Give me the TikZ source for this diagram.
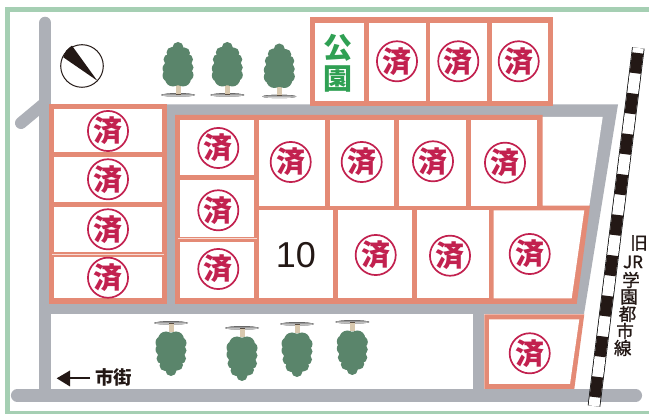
\documentclass[tikz,border=0pt]{standalone}
\usepackage{fontspec}
\setmainfont{Liberation Sans}
\newfontfamily\cjk{Noto Sans CJK JP}
\newfontfamily\cjkmid[FakeBold=1.2]{Noto Sans CJK JP}
\definecolor{roadgray}{HTML}{ADB0B7}
\definecolor{lotsalmon}{HTML}{E48A75}
\definecolor{framegreen}{HTML}{A5CFB3}
\definecolor{stampred}{HTML}{C2214F}
\definecolor{parkgreen}{HTML}{2FA053}
\definecolor{leaf}{HTML}{5A856B}
\definecolor{bark}{HTML}{D8C8AE}
\definecolor{shade}{HTML}{C9D4CB}
\definecolor{ink}{HTML}{231815}
\tikzset{
  road/.style={draw=roadgray,line width=12.5pt,line cap=round},
  lot/.style={fill=lotsalmon},
  cell/.style={fill=white},
  seam/.style={draw=white!70!lotsalmon,line width=1pt},
  stamp/.style={circle,draw=stampred,line width=1.7pt,minimum size=39.8pt,inner sep=0pt,text=stampred,font=\cjk\bfseries\fontsize{29}{29}\selectfont},
  parktext/.style={text=parkgreen,inner sep=0pt,font=\cjk\bfseries\fontsize{29}{29}\selectfont},
  raillabel/.style={text=ink,inner sep=0pt,font=\cjkmid\fontsize{17.5}{18}\selectfont},
  tree/.pic={
    \fill[shade] (0,22.5+8) ellipse[x radius=17,y radius=1.7];
    \fill[bark] (-2.5,21) rectangle (2.5,30);
    \fill[ink!70!bark] (-2.5,29.4) rectangle (2.5,30.2);
    \fill[leaf] (0,-17) circle[radius=5.5] (-6,-12) circle[radius=5.5] (6.5,-11.5) circle[radius=5.5]
      (-9,-5) circle[radius=5.5] (9.5,-5) circle[radius=5.5] (-9.5,4) circle[radius=6]
      (10,3) circle[radius=5.5] (-9,11) circle[radius=6.5] (9.5,10.5) circle[radius=6]
      (-5,14) circle[radius=8] (5,14) circle[radius=8] (0,4) ellipse[x radius=14,y radius=17];
  }
}
\begin{document}
\begin{tikzpicture}[x=1pt,y=-1pt]
\useasboundingbox (0,0) rectangle (649,414);
\fill[white] (0,0) rectangle (649,414);
% frame
\draw[framegreen,line width=5pt] (649,9.5) -- (7.5,9.5) -- (7.5,413.5) -- (649,413.5);
% roads
\draw[road] (45.2,23) -- (45.2,395);
\draw[road,line width=12pt] (21,123) -- (45,103);
\draw[road] (17.2,395.5) -- (635.8,395.5);
\fill[roadgray] (45,104.5) -- (618,104.5) -- (584,314) -- (484,314) -- (484,395) -- (473,395) -- (473,314) -- (45,314) -- cycle;
\fill[white] (530,117) -- (602.7,117) -- (589.3,206) -- (530,206) -- cycle;
% railway
\coordinate (railtop) at (638.3,48);
\coordinate (railend) at (594,406);
\draw[black,line width=12.5pt] (railtop) -- (railend);
\draw[white,line width=11pt] (railtop) -- (railend);
\draw[ink,line width=11pt,dash pattern=on 20.4pt off 20.4pt,dash phase=35.8pt] (railtop) -- (railend);
% top lots
\fill[lot] (310,17.5) rectangle (553,105.7);
\fill[cell] (315,22.7) rectangle (364.3,101);
\fill[cell] (369,22.7) rectangle (425.7,101);
\fill[cell] (430.3,22.7) rectangle (487,101);
\fill[cell] (491.7,22.7) rectangle (547.7,101);
% left lots
\fill[lot] (49.3,104) rectangle (166.7,304);
\fill[cell] (54.3,109) rectangle (161.7,152.3);
\fill[cell] (54.3,157.3) rectangle (161.7,202.3);
\fill[cell] (54.3,207.3) rectangle (161.7,251.7);
\fill[cell] (54.3,256.7) rectangle (161.7,298.3);
\draw[seam] (52,254.3) -- (163.5,254.3);
% middle lots
\fill[lot] (175,115) -- (542.7,115) -- (542.7,205.7) -- (590,205.7) -- (576.7,304) -- (175,304) -- cycle;
\fill[cell] (180,120) rectangle (254.3,175);
\fill[cell] (180,180.3) rectangle (254.3,236.7);
\fill[cell] (180,241.7) rectangle (254.3,298.3);
\draw[seam] (177.5,238.9) -- (257,238.9);
\fill[cell] (259.3,120) rectangle (325,205.7);
\fill[cell] (330,120) rectangle (394.3,205.7);
\fill[cell] (399.3,120) rectangle (466,205.7);
\fill[cell] (471,120) rectangle (537.3,205.7);
\fill[cell] (259.3,210.3) rectangle (332.7,298.3);
\fill[cell] (337.7,210.3) rectangle (412.3,298.3);
\fill[cell] (417,210.3) rectangle (488.7,298.3);
\fill[cell] (493.7,210.3) -- (584.3,210.3) -- (571.7,298.3) -- (493.7,298.3) -- cycle;
% lower right lot
\fill[lot] (484.3,314.3) -- (584.3,314.3) -- (574.3,389) -- (484.3,389) -- cycle;
\fill[cell] (489,319.3) -- (579.3,319.3) -- (570,384) -- (489,384) -- cycle;
% park
\node[parktext] (koen1) at (338,47.5) {公};
\node[parktext] (koen2) at (338,79) {園};
% stamps
\node[stamp] (s1) at (397,61.3) {済};
\node[stamp] (s2) at (458.3,61.3) {済};
\node[stamp] (s3) at (518.7,61.3) {済};
\node[stamp] (s4) at (108,131) {済};
\node[stamp] (s5) at (108,179.3) {済};
\node[stamp] (s6) at (108,229.3) {済};
\node[stamp] (s7) at (108,277.7) {済};
\node[stamp] (s8) at (218.3,148) {済};
\node[stamp] (s9) at (218.3,210.3) {済};
\node[stamp] (s10) at (218.3,269) {済};
\node[stamp] (s11) at (290.7,162) {済};
\node[stamp] (s12) at (361.7,162) {済};
\node[stamp] (s13) at (433,161.3) {済};
\node[stamp] (s14) at (505,162.7) {済};
\node[stamp] (s15) at (375.7,255) {済};
\node[stamp] (s16) at (450,255.7) {済};
\node[stamp] (s17) at (529.7,254) {済};
\node[stamp] (s18) at (529.7,353.3) {済};
\node[inner sep=0pt,text=ink,font=\fontsize{36}{36}\selectfont] (ten) at (296,255) {10};
% compass
\fill[ink] (97.3,80.7) -- (72,45.7) -- (69,47.8) -- (66,51) -- (63.3,57.3) -- cycle;
\draw[ink,line width=1pt] (82,66) circle[radius=21.3];
% trees
\pic at (178,64.5) {tree};
\pic at (227.3,64.5) {tree};
\pic at (279.3,66) {tree};
\pic[yscale=-1] at (171,353.5) {tree};
\pic[yscale=-1] at (242,358.5) {tree};
\pic[yscale=-1] at (297,354.5) {tree};
\pic[yscale=-1] at (352.3,352.5) {tree};
% city arrow
\node[text=ink,inner sep=0pt,font=\cjk\bfseries\fontsize{18.5}{19}\selectfont] (city) at (113.7,377.5) {市街};
\coordinate (arrowstart) at (90,378.3);
\coordinate (arrowbase) at (70,378.3);
\coordinate (arrowtip) at (56.7,378.3);
\draw[ink,line width=2pt] (arrowstart) -- (arrowbase);
\fill[ink] (arrowtip) -- (70,370.5) -- (70,386.5) -- cycle;
% rail label
\node[raillabel] (r1) at (639,243) {旧};
\node[raillabel,font=\cjkmid\fontsize{17}{18}\selectfont] (r2) at (633,262) {JR};
\node[raillabel] (r3) at (631,280) {学};
\node[raillabel] (r4) at (629,297) {園};
\node[raillabel] (r5) at (627.5,314) {都};
\node[raillabel] (r6) at (625,331) {市};
\node[raillabel] (r7) at (622.7,348) {線};
\end{tikzpicture}
\end{document}
